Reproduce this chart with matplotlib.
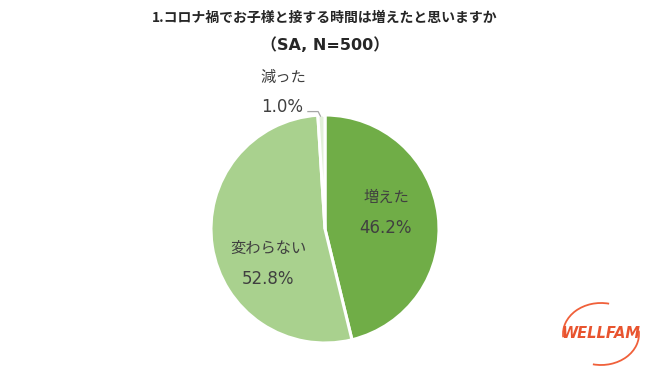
import matplotlib
matplotlib.use('Agg')
import matplotlib.pyplot as plt
from matplotlib.patches import Arc

plt.rcParams['font.family'] = ['Noto Sans CJK JP', 'DejaVu Sans']

# data (clockwise from 12 o'clock)
labels = ['増えた', '変わらない', '減った']
values = [46.2, 52.8, 1.0]
colors = ['#70AD47', '#A9D18E', '#E2F0D9']
title_1 = '1.コロナ禍でお子様と接する時間は増えたと思いますか'
title_2 = '（SA, N=500）'

W, H = 650, 382
fig = plt.figure(figsize=(W / 100, H / 100), dpi=100)

# pie axes (center 325,229 px, radius 114 px)
cx, cy, r = 325, 229, 114
ax = fig.add_axes([(cx - r) / W, (H - cy - r) / H, 2 * r / W, 2 * r / H])
wedges, _ = ax.pie(values, colors=colors, startangle=90, counterclock=False,
                   radius=1.0, wedgeprops=dict(edgecolor='white', linewidth=2.2))
ax.set_xlim(-1, 1)
ax.set_ylim(-1, 1)
ax.set_aspect('equal')
ax.axis('off')

txt = '#404040'
num_font = ['DejaVu Sans']
ax.text(0.54, 0.28, labels[0], ha='center', va='center', fontsize=11, color=txt)
ax.text(0.53, 0.01, f'{values[0]:.1f}%', ha='center', va='center', fontsize=12,
        color=txt, family=num_font)
ax.text(-0.50, -0.17, labels[1], ha='center', va='center', fontsize=11, color=txt)
ax.text(-0.50, -0.44, f'{values[1]:.1f}%', ha='center', va='center', fontsize=12,
        color=txt, family=num_font)
ax.text(-0.37, 1.33, labels[2], ha='center', va='center', fontsize=11, color=txt, clip_on=False)
ax.text(-0.38, 1.07, f'{values[2]:.1f}%', ha='center', va='center', fontsize=12,
        color=txt, family=num_font, clip_on=False)
ax.plot([-0.15, -0.06, -0.04], [1.03, 1.03, 0.99], color='#A6A6A6', lw=0.9, clip_on=False)

fig.text(0.5, 1 - 18 / H, title_1, ha='center', va='center', fontsize=10,
         fontweight='bold', color='#262626')
fig.text(0.5, 1 - 45 / H, title_2, ha='center', va='center', fontsize=11.5,
         fontweight='bold', color='#262626', family=['DejaVu Sans', 'Noto Sans CJK JP'])

# logo
lax = fig.add_axes([552 / W, (H - 372) / H, 96 / W, 80 / H])
lax.set_xlim(552, 648)
lax.set_ylim(372, 292)
lax.axis('off')
lax.add_patch(Arc((601, 334), 76, 62, theta1=-5, theta2=105, color='#F0603A', lw=1.3))
lax.add_patch(Arc((601, 334), 76, 62, theta1=175, theta2=285, color='#F0603A', lw=1.3))
lax.text(601, 333, 'WELLFAM', ha='center', va='center', fontsize=10.5, fontweight='bold',
         style='italic', color='#E8542F', family='DejaVu Sans')

fig.savefig('out.png', dpi=100)
